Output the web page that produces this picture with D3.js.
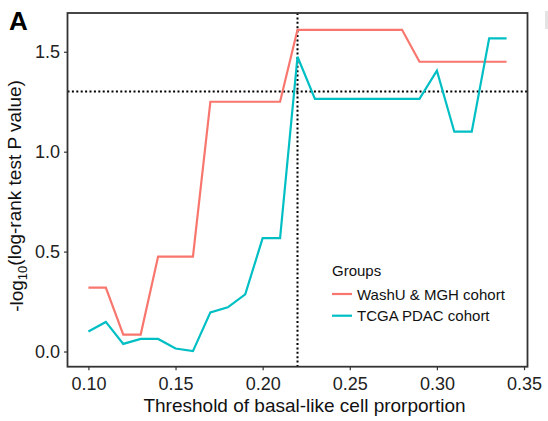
<!DOCTYPE html>
<html><head><meta charset="utf-8">
<script src="https://cdn.jsdelivr.net/npm/d3@7"></script>
<style>
body{margin:0;background:#fff;}
text{font-family:"Liberation Sans",Arial,sans-serif;}
</style></head>
<body><svg id="c" width="548" height="421"></svg>
<script>
const thresholds = [0.10,0.11,0.12,0.13,0.14,0.15,0.16,0.17,0.18,0.19,0.20,0.21,0.22,0.23,0.24,0.25,0.26,0.27,0.28,0.29,0.30,0.31,0.32,0.33,0.34];
const washuMGH = [0.32,0.32,0.085,0.085,0.475,0.475,0.475,1.25,1.25,1.25,1.25,1.25,1.61,1.61,1.61,1.61,1.61,1.61,1.61,1.45,1.45,1.45,1.45,1.45,1.45];
const tcgaPDAC = [0.10,0.148,0.038,0.063,0.063,0.015,0.002,0.196,0.221,0.286,0.567,0.567,1.475,1.264,1.264,1.264,1.264,1.264,1.264,1.264,1.405,1.10,1.10,1.567,1.567];
const seriesNames = ["WashU & MGH cohort","TCGA PDAC cohort"];
const seriesColors = ["#F8766D","#00BFC4"];
const xTicks = [0.10,0.15,0.20,0.25,0.30,0.35];
const yTicks = [0.0,0.5,1.0,1.5];
const pCutoff = -Math.log10(0.05);
const chosenThreshold = 0.22;

const svg = d3.select("#c");
const L=67.5, R=527.5, T=13, B=366.7;
const x = d3.scaleLinear().domain([0.088,0.352]).range([L,R]);
const y = d3.scaleLinear().domain([-0.076,1.694]).range([B,T]);

// axes
const xa = svg.append("g").attr("transform",`translate(0,${B})`)
  .call(d3.axisBottom(x).tickValues(xTicks).tickFormat(d3.format(".2f")).tickSizeOuter(0).tickSize(3.5).tickPadding(4));
const ya = svg.append("g").attr("transform",`translate(${L},0)`)
  .call(d3.axisLeft(y).tickValues(yTicks).tickFormat(d3.format(".1f")).tickSizeOuter(0).tickSize(3.5).tickPadding(4));
[xa,ya].forEach(a=>{
  a.select(".domain").remove();
  a.selectAll(".tick line").attr("stroke","#333").attr("stroke-width",1.2);
  a.selectAll(".tick text").attr("fill","#222").style("font-size","18px");
});
xa.selectAll(".tick text").attr("dy","0.88em");

// reference lines
svg.append("line").attr("x1",L).attr("x2",R).attr("y1",y(pCutoff)).attr("y2",y(pCutoff))
  .attr("stroke","#000").attr("stroke-width",2).attr("stroke-dasharray","2,2.4");
svg.append("line").attr("x1",x(chosenThreshold)).attr("x2",x(chosenThreshold)).attr("y1",T).attr("y2",B)
  .attr("stroke","#000").attr("stroke-width",2).attr("stroke-dasharray","2,2.4");

// lines
const line = d3.line().x((d,i)=>x(thresholds[i])).y(d=>y(d));
[washuMGH,tcgaPDAC].forEach((s,k)=>{
  svg.append("path").datum(s).attr("d",line).attr("fill","none")
    .attr("stroke",seriesColors[k]).attr("stroke-width",2.2).attr("stroke-linejoin","miter");
});

// border
svg.append("rect").attr("x",L).attr("y",T).attr("width",R-L).attr("height",B-T)
  .attr("fill","none").attr("stroke","#333").attr("stroke-width",1.8);

// axis titles
svg.append("text").attr("x",(L+R)/2+7).attr("y",412).attr("text-anchor","middle")
  .style("font-size","19px").attr("fill","#111").text("Threshold of basal-like cell prorportion");
const yt = svg.append("text").attr("transform",`translate(23,196) rotate(-90)`).attr("text-anchor","middle")
  .style("font-size","19px").attr("fill","#111");
yt.append("tspan").text("-log");
yt.append("tspan").attr("dy","0.3em").style("font-size","13px").text("10");
yt.append("tspan").attr("dy","-0.3em").text("(log-rank test P value)");

// legend
const lg = svg.append("g");
lg.append("text").attr("x",332).attr("y",276).style("font-size","15px").attr("fill","#111").text("Groups");
seriesNames.forEach((n,i)=>{
  const yy = 294 + i*21.7;
  lg.append("line").attr("x1",332).attr("x2",352).attr("y1",yy).attr("y2",yy)
    .attr("stroke",seriesColors[i]).attr("stroke-width",2.2);
  lg.append("text").attr("x",357).attr("y",yy+5.5).style("font-size","15px").attr("fill","#111").text(n);
});

// panel label
svg.append("text").attr("x",9).attr("y",29.5).style("font-size","26px").style("font-weight","bold").attr("fill","#000").text("A");
// edge of neighbouring panel's label
svg.append("rect").attr("x",545).attr("y",11).attr("width",3).attr("height",18).attr("fill","#e4e4e4");
</script></body></html>
